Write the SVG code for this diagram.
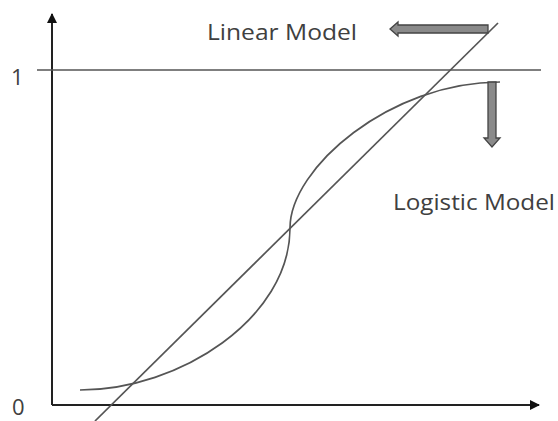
<svg xmlns="http://www.w3.org/2000/svg" width="558" height="421" viewBox="0 0 558 421">
<defs>
<style>
.ax{stroke:#222;stroke-width:2;fill:none}
.ln{stroke:#555;stroke-width:1.7;fill:none}
.blk{fill:#8a8a8a;stroke:#444;stroke-width:1.3}
.lbl{font-family:"Open Sans","Liberation Sans",sans-serif;fill:#404040;font-size:22px}
</style>
<marker id="ah" viewBox="0 0 10 10" refX="9" refY="5" markerWidth="5" markerHeight="5" orient="auto-start-reverse" markerUnits="strokeWidth">
<path d="M0,0 L10,5 L0,10 z" fill="#111"/>
</marker>
</defs>
<rect width="558" height="421" fill="#fff"/>
<g id="axes">
<line class="ax" x1="52" y1="405" x2="52" y2="14" marker-end="url(#ah)"/>
<line class="ax" x1="52" y1="405" x2="539" y2="405" marker-end="url(#ah)"/>
</g>
<g id="one-line">
<line class="ln" x1="37" y1="70" x2="541" y2="70"/>
</g>
<g id="linear">
<line class="ln" x1="95" y1="421" x2="498" y2="23"/>
</g>
<g id="logistic">
<path class="ln" d="M80,390 C180,390 290,318 290,228 C290,168 390,82 500,82"/>
</g>
<g id="connectors">
<path class="blk" d="M488,25 L398,25 L398,22 L390,29 L398,36 L398,33 L488,33 z"/>
<path class="blk" d="M488,82 L488,138 L484,138 L492,147 L500,138 L496,138 L496,82 z"/>
</g>
<g id="labels">
<text class="lbl" x="207" y="40" textLength="150" lengthAdjust="spacingAndGlyphs">Linear Model</text>
<text class="lbl" x="393" y="210" textLength="162" lengthAdjust="spacingAndGlyphs">Logistic Model</text>
<text class="lbl" x="11" y="85" font-size="24">1</text>
<text class="lbl" x="12" y="415" font-size="24">0</text>
</g>
</svg>
